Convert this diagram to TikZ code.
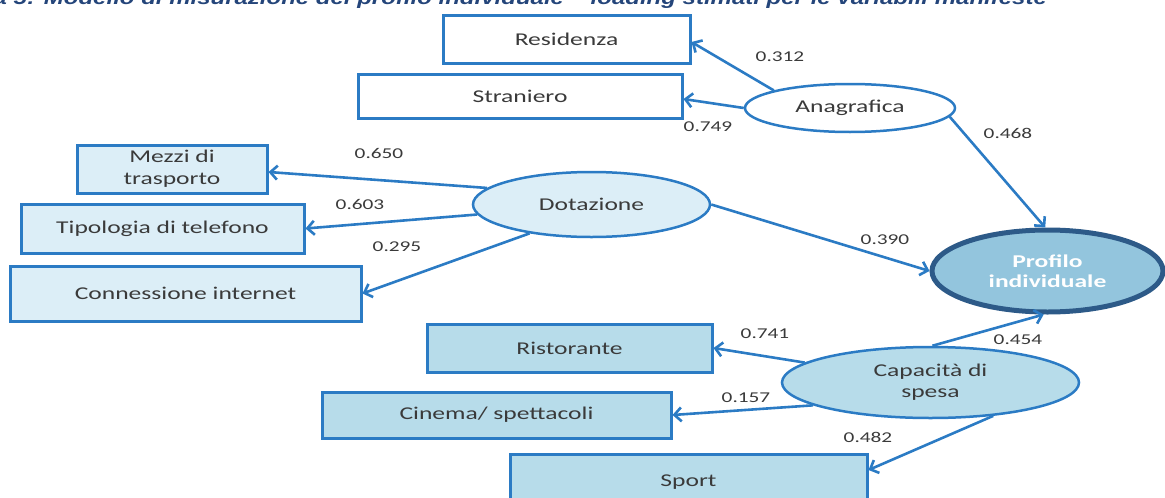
\documentclass[tikz,border=0pt]{standalone}
\usepackage{fontspec}
\setmainfont{Carlito}[FakeStretch=1.42]
\newfontfamily\titlefont{Liberation Sans}[FakeStretch=1.25]
\usetikzlibrary{arrows.meta,shapes.geometric}
\definecolor{edgeblue}{HTML}{2B7BC4}
\definecolor{darkedge}{HTML}{2D5A88}
\definecolor{palefill}{HTML}{DCEEF7}
\definecolor{midfill}{HTML}{B7DCEA}
\definecolor{corefill}{HTML}{93C5DD}
\definecolor{inkgray}{HTML}{3A3A3A}
\definecolor{titleblue}{HTML}{24457A}
\begin{document}
\begin{tikzpicture}[x=1pt,y=-1pt,
  varbox/.style={draw=edgeblue, line width=3pt, rectangle, inner sep=0pt, align=center,
    text=inkgray, font=\fontsize{18}{22}\selectfont},
  latent/.style={draw=edgeblue, line width=2.5pt, ellipse, inner sep=0pt, align=center,
    text=inkgray, font=\fontsize{18}{21}\selectfont},
  load/.style={draw=edgeblue, line width=2.6pt, -{Straight Barb[length=7pt,width=14pt]}},
  coef/.style={text=inkgray, font=\fontsize{15}{17}\selectfont, inner sep=0pt},
]
\useasboundingbox (0,0) rectangle (1165,498);
\clip (0,0) rectangle (1165,498);

% caption line, partly above the frame
\node[anchor=base east, inner sep=0pt, text=titleblue,
  font=\titlefont\bfseries\itshape\fontsize{19.2}{22}\selectfont] (caption) at (1047,4.5)
  {Figura 5: Modello di misurazione del profilo individuale – loading stimati per le variabili manifeste};

% Anagrafica block
\node[varbox, fill=white, minimum width=247pt, minimum height=48pt] (res) at (566.5,39) {Residenza};
\node[varbox, fill=white, minimum width=324pt, minimum height=44pt] (str) at (520,96) {Straniero};
\node[latent, fill=white, minimum width=210pt, minimum height=48pt] (ana) at (850,108) {Anagrafica};

% Dotazione block
\node[varbox, fill=palefill, minimum width=190pt, minimum height=48pt] (mez) at (172,169) {Mezzi di\\trasporto};
\node[varbox, fill=palefill, minimum width=283pt, minimum height=49pt] (tel) at (162.5,228.5) {Tipologia di telefono};
\node[varbox, fill=palefill, minimum width=351pt, minimum height=55pt] (net) at (185.5,293.5) {Connessione internet};
\node[latent, fill=palefill, minimum width=237pt, minimum height=65pt] (dot) at (591.5,204.5) {Dotazione};

% Profilo individuale
\node[ellipse, draw=darkedge, line width=5pt, fill=corefill, inner sep=0pt, align=center,
  text=white, font=\bfseries\fontsize{18}{20}\selectfont,
  minimum width=231pt, minimum height=82pt] (pro) at (1047.5,271) {Profilo\\individuale};

% Capacita di spesa block
\node[varbox, fill=midfill, minimum width=285pt, minimum height=48pt] (ris) at (569.5,348) {Ristorante};
\node[varbox, fill=midfill, minimum width=349pt, minimum height=46pt] (cin) at (496.5,415) {Cinema/ spettacoli};
\node[varbox, fill=midfill, minimum width=357pt, minimum height=56pt] (spo) at (688.5,482) {Sport};
\node[latent, fill=midfill, minimum width=297pt, minimum height=71pt] (cap) at (930.5,382.5) {Capacità di\\spesa};

% loadings
\draw[load] (ana.167) -- ([yshift=-3pt]res.east);
\draw[load] (ana.180) -- ([yshift=-3pt]str.east);
\draw[load] (ana.-5) -- (pro.93);

\draw[load] (dot.171.6) -- ([yshift=-3pt]mez.east);
\draw[load] (dot.185) -- (tel.east);
\draw[load] (dot.205) -- (net.east);
\draw[load] (dot.east) -- (pro.west);

\draw[load] (cap.171.5) -- (ris.east);
\draw[load] (cap.191.8) -- (cin.east);
\draw[load] (cap.-28.6) -- ([yshift=12pt]spo.east);
\draw[load] (cap.87) -- (pro.265);

% coefficients
\node[coef] (l312) at (780,57) {0.312};
\node[coef] (l749) at (708,127) {0.749};
\node[coef] (l468) at (1008,133) {0.468};
\node[coef] (l650) at (379,153) {0.650};
\node[coef] (l603) at (360,204) {0.603};
\node[coef] (l295) at (397,247) {0.295};
\node[coef] (l390) at (885,240) {0.390};
\node[coef] (l741) at (765,334) {0.741};
\node[coef] (l454) at (1018,340) {0.454};
\node[coef] (l157) at (746,398) {0.157};
\node[coef] (l482) at (868,437) {0.482};
\end{tikzpicture}
\end{document}
